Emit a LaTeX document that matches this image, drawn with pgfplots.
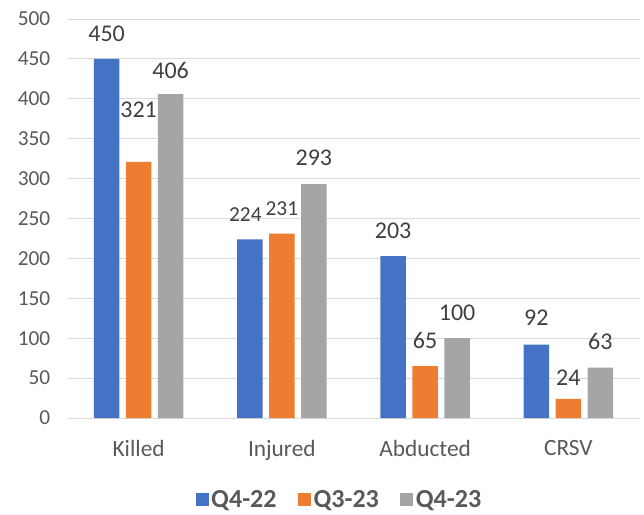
\documentclass[border=0pt]{standalone}
\usepackage{pgfplots}
\pgfplotsset{compat=1.18}
\usepackage{pgfplotstable}
\usepackage{fontspec}
\setmainfont{Carlito}
\definecolor{cblue}{HTML}{4472C4}
\definecolor{corange}{HTML}{ED7D31}
\definecolor{cgray}{HTML}{A5A5A5}
\definecolor{gridc}{HTML}{D9D9D9}
\definecolor{txt}{HTML}{595959}
\definecolor{lbl}{HTML}{404040}
\pgfplotstableread{
x y off dx fs
0 450 19 0 18
1 224 18.5 -3.4 16
2 203 19 0 18
3 92 20 0 18
}\tA
\pgfplotstableread{
x y off dx fs
0 321 39 0 18
1 231 19 0 16
2 65 19 0 18
3 24 16 0 18
}\tB
\pgfplotstableread{
x y off dx fs
0 406 18 0 18
1 293 19.5 0 18
2 100 19 0 18
3 63 20 0 18
}\tC
\pgfplotsset{
  mylegend/.style={legend image code/.code={\fill[##1] (-2pt,-4.9pt) rectangle (7.75pt,4.9pt);}},
  mylbl/.style={
    nodes near coords,
    visualization depends on={\thisrow{off}\as\myoff},
    visualization depends on={\thisrow{dx}\as\mydx},
    visualization depends on={\thisrow{fs}\as\myfs},
    every node near coord/.append style={font=\fontsize{\myfs}{20}\selectfont, text=lbl, anchor=center, yshift=\myoff pt, xshift=\mydx pt},
  },
}
\begin{document}
\begin{tikzpicture}
\useasboundingbox (-50.25pt,-72.75pt) rectangle (432.75pt,313.5pt);
\begin{axis}[
  at={(0,0)}, anchor=south west,
  scale only axis, width=429.75pt, height=299.25pt,
  ybar=5pt, bar width=19pt,
  xmin=-0.5, xmax=3.5, ymin=0, ymax=500,
  ytick={0,50,...,500}, xtick={0,1,2,3},
  xticklabels={Killed,Injured,Abducted,CRSV},
  axis line style={draw=none},
  major tick length=0pt,
  ymajorgrids, grid style={color=gridc, line width=0.75pt},
  /pgf/number format/assume math mode=true,
  yticklabel style={font=\fontsize{16}{18}\selectfont, text=txt, xshift=-9pt},
  xticklabel style={font=\fontsize{17.5}{20}\selectfont, text=txt, yshift=-13pt},
  legend style={at={(0.476,-0.205)}, anchor=center, draw=none, fill=none,
    inner sep=0pt, nodes={inner sep=2pt},
    font=\bfseries\fontsize{19.5}{22}\selectfont, text=txt,
    /tikz/every even column/.append style={column sep=14pt}},
  legend columns=3,
  clip=false,
]
\addplot[fill=cblue, draw=none, mylegend, mylbl] table[x=x,y=y]{\tA};
\addplot[fill=corange, draw=none, mylegend, mylbl] table[x=x,y=y]{\tB};
\addplot[fill=cgray, draw=none, mylegend, mylbl] table[x=x,y=y]{\tC};
\legend{Q4-22,Q3-23,Q4-23}
\end{axis}
\end{tikzpicture}
\end{document}
